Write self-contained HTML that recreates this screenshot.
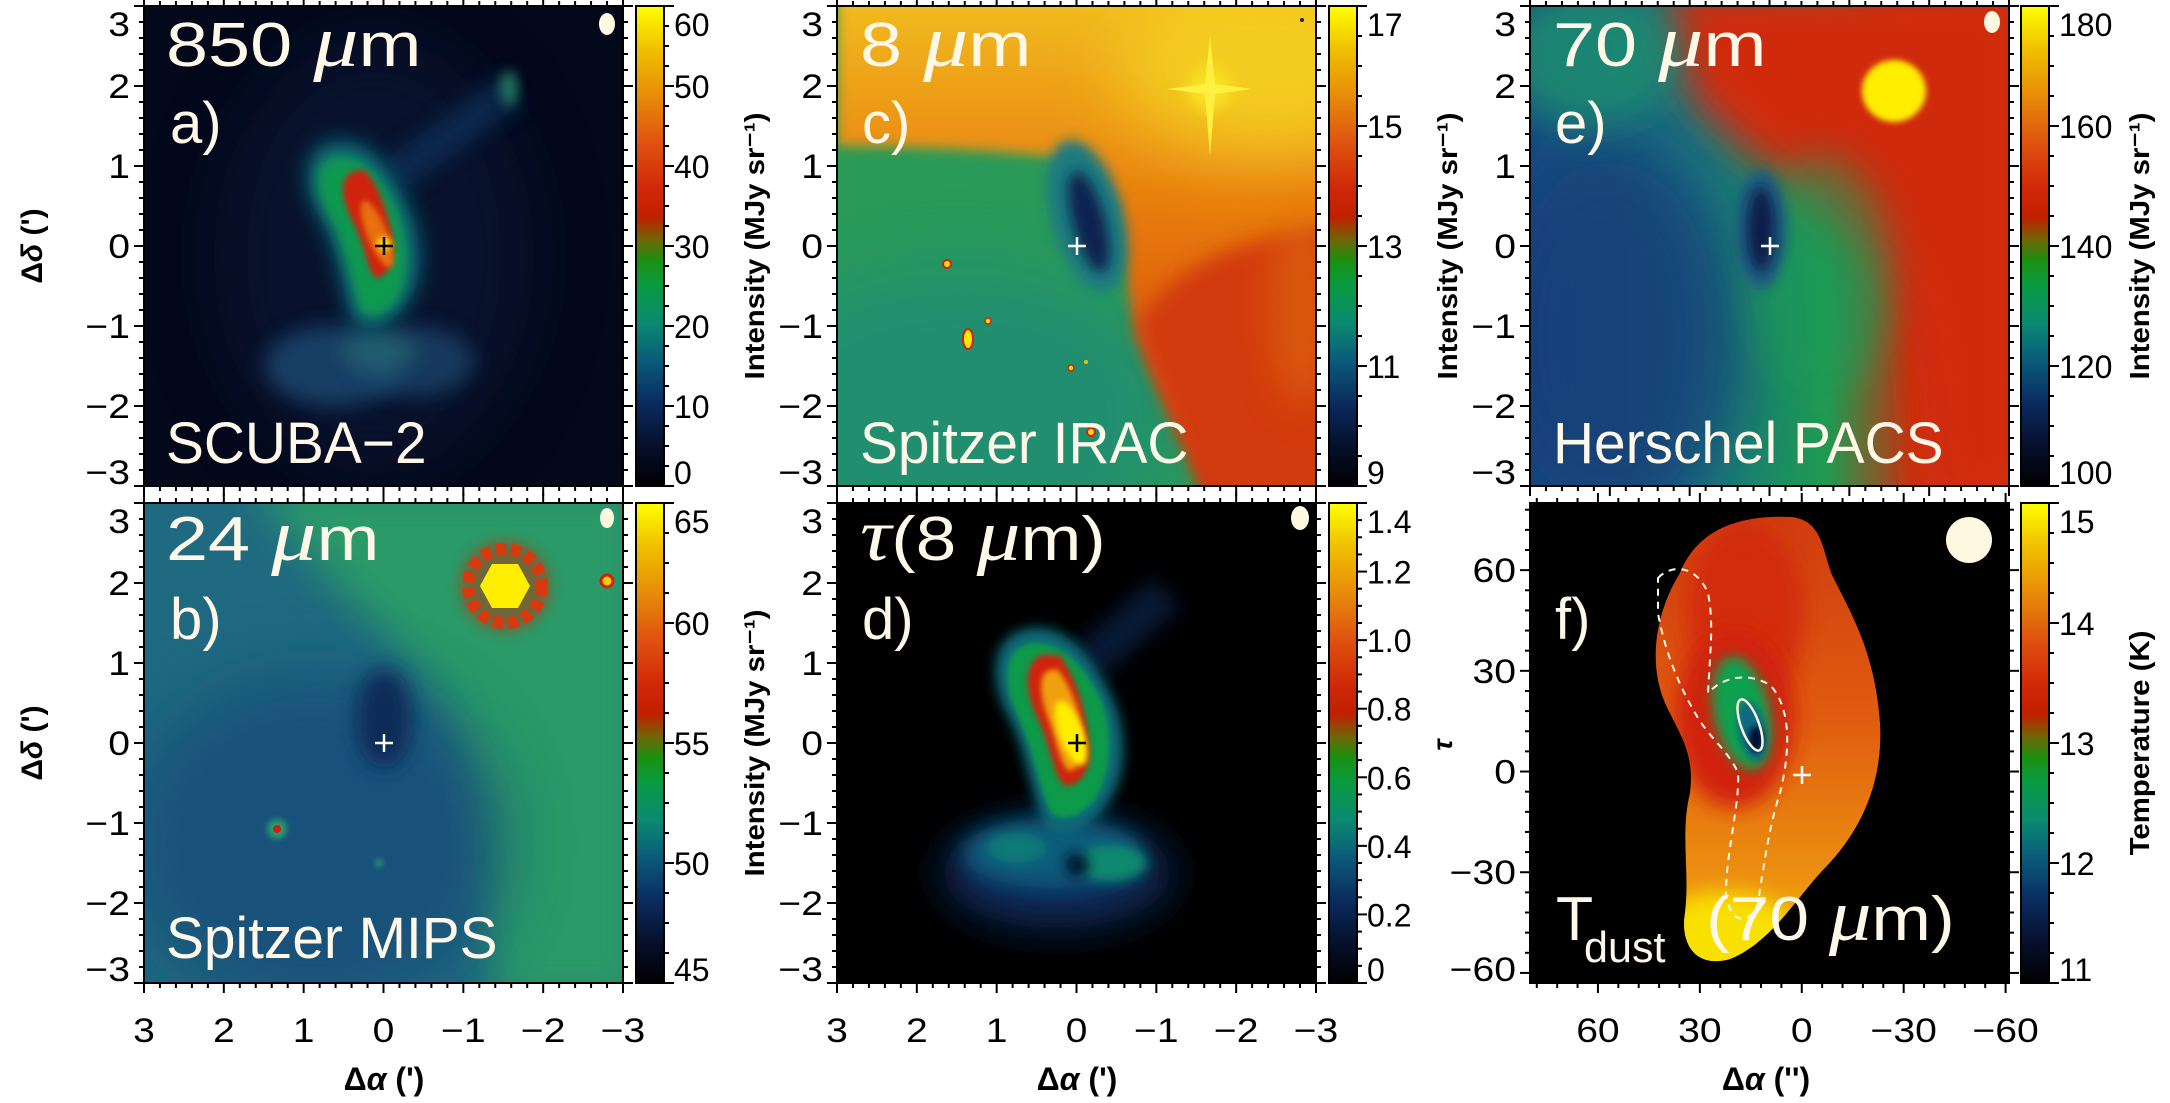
<!DOCTYPE html>
<html><head><meta charset="utf-8">
<style>
html,body{margin:0;padding:0;background:#fff;}
svg{display:block;}
text{font-family:"Liberation Sans",sans-serif;}
</style></head>
<body>
<svg id="fig" width="2170" height="1103" viewBox="0 0 2170 1103" xmlns="http://www.w3.org/2000/svg">
<defs>
  <filter id="b3" x="-50%" y="-50%" width="200%" height="200%"><feGaussianBlur stdDeviation="3"/></filter>
  <filter id="b6" x="-50%" y="-50%" width="200%" height="200%"><feGaussianBlur stdDeviation="6"/></filter>
  <filter id="b10" x="-50%" y="-50%" width="200%" height="200%"><feGaussianBlur stdDeviation="10"/></filter>
  <filter id="b20" x="-50%" y="-50%" width="200%" height="200%"><feGaussianBlur stdDeviation="20"/></filter>
  <filter id="b35" x="-50%" y="-50%" width="200%" height="200%"><feGaussianBlur stdDeviation="35"/></filter>
  <linearGradient id="cmap" x1="0" y1="1" x2="0" y2="0">
    <stop offset="0" stop-color="#000000"/>
    <stop offset="0.08" stop-color="#050f2a"/>
    <stop offset="0.17" stop-color="#0a2a5e"/>
    <stop offset="0.26" stop-color="#0a5a7a"/>
    <stop offset="0.34" stop-color="#0a8a70"/>
    <stop offset="0.42" stop-color="#0a9a40"/>
    <stop offset="0.47" stop-color="#1a9010"/>
    <stop offset="0.51" stop-color="#6a6a08"/>
    <stop offset="0.56" stop-color="#c02000"/>
    <stop offset="0.62" stop-color="#d02808"/>
    <stop offset="0.72" stop-color="#e05510"/>
    <stop offset="0.82" stop-color="#e89008"/>
    <stop offset="0.91" stop-color="#f0c000"/>
    <stop offset="1" stop-color="#ffff00"/>
  </linearGradient>
  <linearGradient id="cTop" x1="0" y1="0" x2="0" y2="1">
    <stop offset="0" stop-color="#f2c020"/>
    <stop offset="0.4" stop-color="#e88010"/>
    <stop offset="0.8" stop-color="#d84a10"/>
    <stop offset="1" stop-color="#d03010"/>
  </linearGradient>
  <linearGradient id="eBase" x1="0" y1="0" x2="1" y2="0">
    <stop offset="0" stop-color="#174a82"/>
    <stop offset="0.35" stop-color="#1a7a80"/>
    <stop offset="0.62" stop-color="#1f9a50"/>
    <stop offset="0.8" stop-color="#c83010"/>
    <stop offset="1" stop-color="#d84010"/>
  </linearGradient>
  <linearGradient id="fFill" x1="0" y1="0" x2="0" y2="1">
    <stop offset="0" stop-color="#d03a10"/>
    <stop offset="0.45" stop-color="#e05c10"/>
    <stop offset="0.78" stop-color="#ec9010"/>
    <stop offset="1" stop-color="#f8d000"/>
  </linearGradient>
  <clipPath id="clipP"><rect x="0" y="0" width="479" height="480"/></clipPath>
  <clipPath id="clipF"><path d="M150 70 C170 20 220 12 262 14 C292 18 292 45 302 72 C322 112 345 150 350 220 C354 290 322 338 292 368 C266 396 240 440 200 456 C165 466 150 440 155 410 C160 370 150 330 160 290 C165 250 150 232 135 200 C118 160 125 110 150 70 Z"/></clipPath>
</defs>

<!-- Panel a: 850 um -->
<g transform="translate(144,6)" clip-path="url(#clipP)">
  <rect width="479" height="480" fill="#03081a"/>
  <ellipse cx="230" cy="250" rx="160" ry="220" fill="#0a1a40" opacity="0.5" filter="url(#b35)"/>
  <ellipse cx="190" cy="360" rx="70" ry="40" fill="#1a4a72" opacity="0.8" filter="url(#b10)"/>
  <ellipse cx="270" cy="355" rx="60" ry="35" fill="#1a4a72" opacity="0.7" filter="url(#b10)"/>
  <ellipse cx="235" cy="345" rx="40" ry="20" fill="#2a7a70" opacity="0.45" filter="url(#b10)"/>
  <path d="M250 170 L365 85" stroke="#10305a" stroke-width="36" opacity="0.7" filter="url(#b10)"/>
  <ellipse cx="365" cy="82" rx="9" ry="18" fill="#2a8a70" opacity="0.8" filter="url(#b6)"/>
  <path d="M190 135 C155 140 158 185 178 215 C195 245 198 290 210 318 C228 332 255 315 268 290 C282 260 276 222 262 195 C246 160 226 132 190 135 Z" fill="#0a6a7a" filter="url(#b10)"/>
  <path d="M196 150 C168 152 168 182 185 210 C200 238 208 280 216 305 C230 318 250 305 258 285 C268 258 262 225 252 200 C238 172 222 150 196 150 Z" fill="#0f9a50" filter="url(#b6)"/>
  <path d="M208 166 C194 174 198 196 210 218 C222 242 224 266 232 272 C246 270 252 250 248 228 C242 200 232 176 220 164 Z" fill="#d02010" filter="url(#b3)"/>
  <ellipse cx="233" cy="228" rx="10" ry="36" transform="rotate(-22 233 228)" fill="#e87010" filter="url(#b3)"/>
  <circle cx="240" cy="238" r="7" fill="#f8e000" filter="url(#b3)"/>
  <ellipse cx="463" cy="18" rx="8" ry="11" fill="#fff8e0"/>
</g>

<!-- Panel c: 8 um -->
<g transform="translate(837,6)" clip-path="url(#clipP)">
  <rect width="479" height="480" fill="#2a9a58"/>
  <ellipse cx="120" cy="410" rx="220" ry="150" fill="#1f8a7a" opacity="0.7" filter="url(#b35)"/>
  <path d="M0 -20 H500 V500 H373 C340 420 310 360 298 320 C288 280 288 230 275 195 C262 168 230 150 190 148 C120 142 60 140 0 140 Z" fill="url(#cTop)" filter="url(#b6)"/>
  <path d="M300 320 C320 380 350 430 373 500 H500 V220 C420 230 340 250 300 320 Z" fill="#d23a10" filter="url(#b10)"/>
  <ellipse cx="430" cy="60" rx="150" ry="90" fill="#f5d020" opacity="0.9" filter="url(#b35)"/>
  <ellipse cx="465" cy="300" rx="30" ry="100" fill="#e07010" opacity="0.6" filter="url(#b20)"/>
  <ellipse cx="250" cy="210" rx="36" ry="78" transform="rotate(-15 250 210)" fill="#1a7a80" filter="url(#b6)"/>
  <ellipse cx="252" cy="216" rx="16" ry="52" transform="rotate(-15 252 216)" fill="#0a2050" filter="url(#b6)"/>
  <g>
    <ellipse cx="373" cy="83" rx="22" ry="22" fill="#f8e020" filter="url(#b6)"/>
    <path d="M373 30 L378 78 L415 83 L378 88 L373 150 L368 88 L330 83 L368 78 Z" fill="#fff040"/>
  </g>
  <circle cx="110" cy="258" r="4" fill="#f0e000" stroke="#d02010" stroke-width="2"/>
  <ellipse cx="131" cy="333" rx="5" ry="10" fill="#f8e800" stroke="#d02010" stroke-width="2"/>
  <circle cx="151" cy="315" r="3" fill="#f0e000" stroke="#d02010" stroke-width="1.5"/>
  <circle cx="234" cy="362" r="3" fill="#f0e000" stroke="#d02010" stroke-width="1.5"/>
  <circle cx="249" cy="356" r="2" fill="#f0c000"/>
  <circle cx="254" cy="426" r="4" fill="#f0e000" stroke="#d02010" stroke-width="2"/>
  <circle cx="465" cy="14" r="2" fill="#202020"/>
</g>

<!-- Panel e: 70 um -->
<g transform="translate(1530,6)" clip-path="url(#clipP)">
  <rect width="479" height="480" fill="url(#eBase)"/>
  <ellipse cx="80" cy="330" rx="130" ry="200" fill="#143c78" opacity="0.85" filter="url(#b35)"/>
  <path d="M140 -20 H500 V500 H400 C385 420 400 320 350 260 C300 205 250 175 205 135 C160 95 125 60 140 -20 Z" fill="#d02a10" filter="url(#b20)"/>
  <ellipse cx="60" cy="50" rx="90" ry="70" fill="#1a8a70" opacity="0.9" filter="url(#b20)"/>
  <ellipse cx="290" cy="270" rx="70" ry="120" fill="#1f9a58" opacity="0.6" filter="url(#b20)"/>
  <ellipse cx="231" cy="223" rx="26" ry="60" fill="#1a5a80" filter="url(#b6)"/>
  <ellipse cx="231" cy="223" rx="13" ry="42" fill="#0a1a48" filter="url(#b6)"/>
  <ellipse cx="364" cy="85" rx="32" ry="31" fill="#ffee00" filter="url(#b3)"/>
  <ellipse cx="462" cy="16" rx="8" ry="11" fill="#fff8e0"/>
</g>

<!-- Panel b: 24 um -->
<g transform="translate(144,503)" clip-path="url(#clipP)">
  <rect width="479" height="480" fill="#1f6a80"/>
  <path d="M110 -20 H500 V500 H350 C338 360 330 260 300 205 C252 130 180 80 110 -20 Z" fill="#2a9a68" filter="url(#b20)"/>
  <ellipse cx="170" cy="340" rx="190" ry="170" fill="#184a78" opacity="0.75" filter="url(#b35)"/>
  <ellipse cx="240" cy="215" rx="28" ry="50" fill="#0f2a58" filter="url(#b10)"/>
  <g>
    <circle cx="361" cy="83" r="46" fill="#b83010" opacity="0.5" filter="url(#b6)"/>
    <circle cx="361" cy="83" r="37" fill="none" stroke="#d83a10" stroke-width="12" stroke-dasharray="10 5"/>
    <polygon points="386,83 374,105 348,105 336,83 348,61 374,61" fill="#ffee00"/>
  </g>
  <circle cx="463" cy="78" r="6" fill="#f0d000" stroke="#d02010" stroke-width="3"/>
  <circle cx="133" cy="326" r="10" fill="#2a9a70" filter="url(#b3)"/>
  <circle cx="133" cy="326" r="4" fill="#d02010"/>
  <circle cx="235" cy="360" r="4" fill="#2a9a70" filter="url(#b3)"/>
  <ellipse cx="463" cy="15" rx="7" ry="10" fill="#fff8e0"/>
</g>

<!-- Panel d: tau 8 um -->
<g transform="translate(837,503)" clip-path="url(#clipP)">
  <rect width="479" height="480" fill="#000000"/>
  <ellipse cx="220" cy="370" rx="115" ry="55" fill="#0a2a5a" filter="url(#b20)"/>
  <ellipse cx="215" cy="350" rx="90" ry="35" fill="#0a5a7a" filter="url(#b10)"/>
  <ellipse cx="275" cy="360" rx="35" ry="18" fill="#0f8a70" filter="url(#b6)"/>
  <ellipse cx="180" cy="345" rx="30" ry="15" fill="#0a7a78" filter="url(#b6)"/>
  <ellipse cx="240" cy="362" rx="12" ry="12" fill="#031430" filter="url(#b6)"/>
  <path d="M250 160 L330 90" stroke="#0a2a5a" stroke-width="40" opacity="0.6" filter="url(#b10)"/>
  <path d="M195 125 C150 130 152 180 172 215 C190 250 195 300 210 325 C230 340 262 320 276 292 C292 260 288 222 274 192 C256 155 232 122 195 125 Z" fill="#0a6a7a" filter="url(#b6)"/>
  <path d="M198 140 C165 142 165 180 180 212 C196 245 202 285 214 310 C230 322 254 308 264 285 C276 258 274 222 264 196 C248 165 228 140 198 140 Z" fill="#0f9a48" filter="url(#b3)"/>
  <path d="M205 152 C185 160 188 192 202 218 C214 245 216 272 228 283 C246 282 256 262 252 238 C248 205 238 172 222 152 Z" fill="#d02010" filter="url(#b3)"/>
  <path d="M210 168 C200 176 204 198 213 220 C221 244 224 262 232 268 C244 266 248 250 246 232 C242 204 232 180 220 166 Z" fill="#f0a010" filter="url(#b3)"/>
  <ellipse cx="234" cy="230" rx="12" ry="34" transform="rotate(-20 234 230)" fill="#ffee00" filter="url(#b3)"/>
  <ellipse cx="463" cy="15" rx="9" ry="12" fill="#fff8e0"/>
</g>

<!-- Panel f: Tdust -->
<g transform="translate(1530,503)">
  <rect width="479" height="480" fill="#000000"/>
  <g clip-path="url(#clipF)">
    <rect width="479" height="480" fill="url(#fFill)"/>
    <ellipse cx="215" cy="110" rx="60" ry="90" fill="#d02010" opacity="0.7" filter="url(#b10)"/>
    <ellipse cx="205" cy="215" rx="60" ry="90" fill="#d02010" filter="url(#b10)"/>
    <ellipse cx="212" cy="210" rx="28" ry="58" transform="rotate(-12 212 210)" fill="#10a050" filter="url(#b6)"/>
    <ellipse cx="222" cy="228" rx="14" ry="30" transform="rotate(-12 222 228)" fill="#0a6a80" filter="url(#b3)"/>
    <ellipse cx="226" cy="236" rx="7" ry="13" fill="#050a30" filter="url(#b3)"/>
    <ellipse cx="195" cy="440" rx="75" ry="50" fill="#f8e000" filter="url(#b10)"/>
  </g>
  <ellipse cx="220" cy="222" rx="9" ry="27" transform="rotate(-20 220 222)" fill="none" stroke="#fff8e0" stroke-width="2.5"/>
  <path d="M128 75 C140 62 165 60 178 90 C184 120 180 150 178 190 C195 172 220 170 240 182 C262 205 260 250 250 290 C240 320 234 360 228 400 C222 420 200 425 196 390 C196 350 210 300 208 270 C200 250 180 235 168 215 C150 185 135 150 128 110 Z" fill="none" stroke="#fff8e0" stroke-width="2" stroke-dasharray="7 6"/>
  <ellipse cx="439" cy="37" rx="23" ry="23" fill="#fff8e0"/>
</g>

<g id="axes"></g>
</svg>

<script>
// ---- data arrays ----
const arcTicks = [3, 2, 1, 0, -1, -2, -3];
const arcRange = [3, -3];
const fXTicks = [60, 30, 0, -30, -60];
const fXRange = [80, -61];
const fYTicks = [60, 30, 0, -30, -60];
const fYRange = [80, -63];
const cbTicksA = [0, 10, 20, 30, 40, 50, 60];
const cbRangeA = [0, 60];
const cbTicksC = [9, 11, 13, 15, 17];
const cbRangeC = [9, 17];
const cbTicksE = [100, 120, 140, 160, 180];
const cbRangeE = [100, 180];
const cbTicksB = [45, 50, 55, 60, 65];
const cbRangeB = [45, 65];
const cbTicksD = ["0", "0.2", "0.4", "0.6", "0.8", "1.0", "1.2", "1.4"];
const cbRangeD = [0, 1.4];
const cbTicksF = [11, 12, 13, 14, 15];
const cbRangeF = [11, 15];

const NS = "http://www.w3.org/2000/svg";
const layer = document.getElementById("axes");
const W = 479, H = 480;

function mk(tag, attrs, parent) {
  const e = document.createElementNS(NS, tag);
  for (const k in attrs) e.setAttribute(k, attrs[k]);
  (parent || layer).appendChild(e);
  return e;
}
function txt(str, x, y, size, anchor, parent, opts) {
  opts = opts || {};
  const t = mk("text", {
    x: 0, y: 0, "font-size": size, "text-anchor": anchor || "start",
    fill: opts.fill || "#000", "font-weight": opts.bold ? "bold" : "normal",
    transform: `translate(${x},${y}) ${opts.rot ? "rotate(" + opts.rot + ")" : ""} scale(${opts.sx || 1.15},1)`
  }, parent);
  t.textContent = str;
  return t;
}
function scale(v, r, a, b) { return a + (v - r[0]) / (r[1] - r[0]) * (b - a); }

function axes(name, x0, y0, xTicks, xR, yTicks, yR, xMinorStep, yMinorStep, showX, showY) {
  const g = mk("g", {});
  
  
  mk("rect", {x: x0, y: y0, width: W, height: H, fill: "none", stroke: "#000", "stroke-width": 2}, g);
  const lo = Math.min(xR[0], xR[1]), hi = Math.max(xR[0], xR[1]);
  for (let v = Math.ceil(lo / xMinorStep) * xMinorStep; v <= hi + 1e-9; v += xMinorStep) {
    const px = scale(v, xR, x0, x0 + W);
    const major = xTicks.some(t => Math.abs(t - v) < 1e-6);
    const L = major ? 10 : 5;
    mk("line", {x1: px, y1: y0, x2: px, y2: y0 - L, stroke: "#000", "stroke-width": 2}, g);
    mk("line", {x1: px, y1: y0 + H, x2: px, y2: y0 + H + L, stroke: "#000", "stroke-width": 2}, g);
  }
  const ylo = Math.min(yR[0], yR[1]), yhi = Math.max(yR[0], yR[1]);
  for (let v = Math.ceil(ylo / yMinorStep) * yMinorStep; v <= yhi + 1e-9; v += yMinorStep) {
    const py = scale(v, yR, y0, y0 + H);
    const major = yTicks.some(t => Math.abs(t - v) < 1e-6);
    const L = major ? 10 : 5;
    mk("line", {x1: x0, y1: py, x2: x0 - L, y2: py, stroke: "#000", "stroke-width": 2}, g);
    mk("line", {x1: x0 + W, y1: py, x2: x0 + W + L, y2: py, stroke: "#000", "stroke-width": 2}, g);
  }
  if (showY) yTicks.forEach(v => {
    let py = scale(v, yR, y0, y0 + H);
    py = Math.max(y0 + 18, Math.min(y0 + H - 14, py));
    const t = txt(String(v).replace("-", "\u2212"), x0 - 14, py + 12, 34, "end", g);
    
    
  });
  if (showX) xTicks.forEach(v => {
    const px = scale(v, xR, x0, x0 + W);
    const t = txt(String(v).replace("-", "\u2212"), px, 1042, 34, "middle", g);
    
    
  });
}

function colorbar(name, x0, y0, ticks, range, title) {
  const g = mk("g", {});
  
  
  const cw = 28;
  mk("rect", {x: x0, y: y0, width: cw, height: H, fill: "url(#cmap)", stroke: "#000", "stroke-width": 2}, g);
  const vals = ticks.map(Number);
  const step = (vals[1] - vals[0]) / 4;
  for (let v = range[0]; v <= range[1] + 1e-9; v += step) {
    const py = scale(v, [range[1], range[0]], y0, y0 + H);
    const major = vals.some(t => Math.abs(t - v) < 1e-6);
    mk("line", {x1: x0 + cw, y1: py, x2: x0 + cw + (major ? 10 : 5), y2: py, stroke: "#000", "stroke-width": 2}, g);
  }
  ticks.forEach(v => {
    let py = scale(Number(v), [range[1], range[0]], y0, y0 + H);
    py = Math.max(y0 + 18, Math.min(y0 + H - 14, py));
    const t = txt(String(v), x0 + cw + 10, py + 12, 32, "start", g, {sx: 1.0});
    
    
  });
  if (title) {
    const tt = txt(title, x0 + 128, y0 + H / 2, 28, "middle", g, {rot: -90, bold: true, sx: 1.05});
    
    
  }
}

const intensity = "Intensity (MJy sr\u207B\u00B9)";
axes("panel-a", 144, 6, arcTicks, arcRange, arcTicks, arcRange, 0.2, 0.2, false, true);
axes("panel-c", 837, 6, arcTicks, arcRange, arcTicks, arcRange, 0.2, 0.2, false, true);
axes("panel-e", 1530, 6, arcTicks, arcRange, arcTicks, arcRange, 0.2, 0.2, false, true);
axes("panel-b", 144, 503, arcTicks, arcRange, arcTicks, arcRange, 0.2, 0.2, true, true);
axes("panel-d", 837, 503, arcTicks, arcRange, arcTicks, arcRange, 0.2, 0.2, true, true);
axes("panel-f", 1530, 503, fXTicks, fXRange, fYTicks, fYRange, 6, 6, true, true);

colorbar("colorbar-a", 636, 6, cbTicksA, cbRangeA, intensity);
colorbar("colorbar-c", 1329, 6, cbTicksC, cbRangeC, intensity);
colorbar("colorbar-e", 2021, 6, cbTicksE, cbRangeE, intensity);
colorbar("colorbar-b", 636, 503, cbTicksB, cbRangeB, intensity);
colorbar("colorbar-d", 1329, 503, cbTicksD, cbRangeD, "");
colorbar("colorbar-f", 2021, 503, cbTicksF, cbRangeF, "Temperature (K)");
</script>

<script>
// panel labels and axis titles
(function(){
  const NS = "http://www.w3.org/2000/svg";
  const svg = document.getElementById("fig");
  function T(x, y, html, size, opts) {
    opts = opts || {};
    const t = document.createElementNS(NS, "text");
    t.setAttribute("transform", `translate(${x},${y}) ${opts.rot ? "rotate(" + opts.rot + ")" : ""} scale(${opts.sx || 1.18},1)`);
    t.setAttribute("font-size", size);
    t.setAttribute("fill", opts.fill || "#fff8e8");
    if (opts.serif) t.setAttribute("font-family", "Liberation Serif, serif");
    if (opts.bold) t.setAttribute("font-weight", "bold");
    if (opts.anchor) t.setAttribute("text-anchor", opts.anchor);
    t.innerHTML = html;
    svg.appendChild(t);
    return t;
  }
  const mu = '<tspan font-style="italic" font-family="Liberation Serif, serif" font-size="74">\u03BC</tspan>m';
  const lab = {sx: 0.98};
  let e;
  e = T(166, 66, '850 ' + mu, 62, {sx: 1.22});
   
  e = T(170, 143, 'a)', 58, {serif: true, sx: 1});
   
  e = T(166, 463, 'SCUBA\u22122', 58, lab);
   

  e = T(860, 66, '8 ' + mu, 62, {sx: 1.22});
   
  e = T(862, 143, 'c)', 58, {serif: true, sx: 1});
   
  e = T(860, 463, 'Spitzer IRAC', 58, lab);
   

  e = T(1553, 66, '70 ' + mu, 62, {sx: 1.22});
   
  e = T(1555, 143, 'e)', 58, {serif: true, sx: 1});
   
  e = T(1553, 463, 'Herschel PACS', 58, lab);
   

  e = T(166, 560, '24 ' + mu, 62, {sx: 1.22});
   
  e = T(170, 639, 'b)', 58, {serif: true, sx: 1});
   
  e = T(166, 958, 'Spitzer MIPS', 58, lab);
   

  e = T(860, 560, '<tspan font-style="italic" font-family="Liberation Serif, serif" font-size="74">\u03C4</tspan>(8 ' + mu + ')', 62, {sx: 1.18});
   
  e = T(862, 639, 'd)', 58, {serif: true, sx: 1});
   

  e = T(1555, 639, 'f)', 58, {serif: true, sx: 1});
   
  e = T(1556, 940, 'T', 62, lab);
   
  e = T(1584, 962, 'dust', 44, lab);
   
  e = T(1706, 940, '(70 ' + mu + ')', 62, {sx: 1.15});
   

  // crosses
  [[384,246,'#000'],[1077,246,'#fff'],[1770,246,'#fff'],[384,743,'#fff'],[1077,743,'#000'],[1802,775,'#fff']].forEach(function(c){
    const p = document.createElementNS(NS, "path");
    p.setAttribute("d", `M${c[0]-9} ${c[1]} H${c[0]+9} M${c[0]} ${c[1]-9} V${c[1]+9}`);
    p.setAttribute("stroke", c[2]); p.setAttribute("stroke-width", "2.5");
    
    
    svg.appendChild(p);
  });

  // axis titles
  const dd = '\u0394<tspan font-style="italic">\u03B4</tspan> (\')';
  e = T(42, 246, dd, 30, {rot: -90, bold: true, anchor: "middle", fill: "#000", sx: 1});
   
  e = T(42, 743, dd, 30, {rot: -90, bold: true, anchor: "middle", fill: "#000", sx: 1});
   
  e = T(1452, 745, '<tspan font-style="italic">\u03C4</tspan>', 28, {rot: -90, bold: true, anchor: "middle", fill: "#000", sx: 1});
   
  const da = '\u0394<tspan font-style="italic">\u03B1</tspan> (\')';
  e = T(384, 1090, da, 32, {bold: true, anchor: "middle", fill: "#000", sx: 1});
   
  e = T(1077, 1090, da, 32, {bold: true, anchor: "middle", fill: "#000", sx: 1});
   
  e = T(1766, 1090, '\u0394<tspan font-style="italic">\u03B1</tspan> (\'\')', 32, {bold: true, anchor: "middle", fill: "#000", sx: 1});
   
})();
</script>
</body></html>
